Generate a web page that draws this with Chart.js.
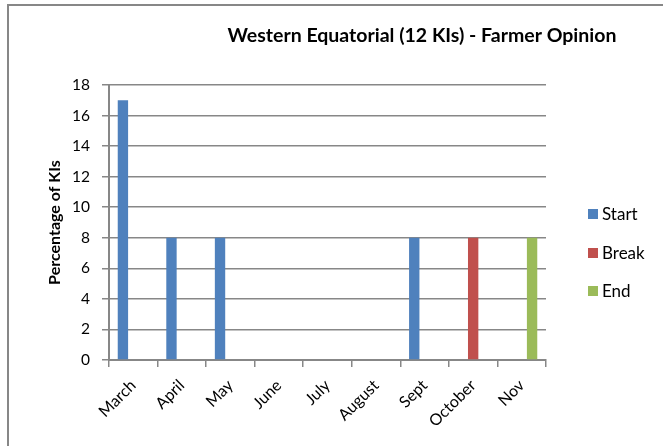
<!DOCTYPE html>
<html>
<head>
<meta charset="utf-8">
<script src="https://cdn.jsdelivr.net/npm/chart.js@4/dist/chart.umd.min.js"></script>
<style>
  html, body { margin: 0; padding: 0; background: #ffffff; }
  #wrap { position: relative; width: 663px; height: 446px; overflow: hidden; }
  #frame { position: absolute; left: 7px; top: 4px; width: 720px; height: 520px;
           border-left: 2px solid #878787; border-top: 2px solid #878787; }
  #c { position: absolute; left: 0; top: 0; }
</style>
</head>
<body>
<div id="wrap">
  <div id="frame"></div>
  <canvas id="c" width="663" height="446"></canvas>
</div>
<script>
// Months asked about, and the share of key informants (%) naming each one
const months = ['March', 'April', 'May', 'June', 'July', 'August', 'Sept', 'October', 'Nov'];
const startPct = [17, 8, 8, 0, 0, 0, 8, 0, 0];
const breakPct = [0, 0, 0, 0, 0, 0, 0, 8, 0];
const endPct   = [0, 0, 0, 0, 0, 0, 0, 0, 8];
const seriesNames = ['Start', 'Break', 'End'];
const seriesColors = ['#4F81BD', '#C0504D', '#9BBB59'];
const chartTitle = 'Western Equatorial (12 KIs) - Farmer Opinion';
const yAxisTitle = 'Percentage of KIs';
const yMax = 18;
const yStep = 2;

const FONT = 'Lato, "Open Sans", "DejaVu Sans", sans-serif';
const GRID = '#878787';

// Title and legend drawn in fixed spots beside the plot
const sideTexts = {
  id: 'sideTexts',
  afterDraw(chart) {
    const ctx = chart.ctx;
    ctx.save();
    ctx.fillStyle = '#000';
    ctx.font = 'bold 19.5px ' + FONT;
    ctx.textAlign = 'center';
    ctx.textBaseline = 'middle';
    ctx.fillText(chartTitle, 422, 36);

    ctx.font = '17px ' + FONT;
    ctx.textAlign = 'left';
    const rows = [214, 253, 291];
    chart.data.datasets.forEach((ds, i) => {
      const cy = rows[i];
      ctx.fillStyle = ds.backgroundColor;
      ctx.fillRect(588, cy - 5, 10, 10);
      ctx.fillStyle = '#000';
      ctx.fillText(ds.label, 602, cy + 1);
    });
    ctx.restore();
  }
};

new Chart(document.getElementById('c'), {
  type: 'bar',
  data: {
    labels: months,
    datasets: [
      { label: seriesNames[0], data: startPct, backgroundColor: seriesColors[0] },
      { label: seriesNames[1], data: breakPct, backgroundColor: seriesColors[1] },
      { label: seriesNames[2], data: endPct,   backgroundColor: seriesColors[2] }
    ]
  },
  options: {
    responsive: false,
    animation: false,
    devicePixelRatio: 1,
    layout: { padding: { left: 0, top: 85, right: 117, bottom: 0 } },
    datasets: { bar: { categoryPercentage: 0.64, barPercentage: 1.0, borderWidth: 0 } },
    plugins: {
      legend: { display: false },
      title: { display: false },
      tooltip: { enabled: false }
    },
    scales: {
      x: {
        afterFit(scale) { scale.height = 86; },
        grid: { offset: true, drawOnChartArea: false, drawTicks: true, tickLength: 7, color: GRID, lineWidth: 1.5 },
        border: { display: true, color: GRID, width: 2 },
        ticks: { color: '#000', font: { family: FONT, size: 16 }, minRotation: 45, maxRotation: 45, padding: 9 }
      },
      y: {
        min: 0,
        max: yMax,
        afterFit(scale) { scale.width = 109; },
        grid: { color: GRID, lineWidth: 1.5, drawTicks: true, tickLength: 7 },
        border: { display: true, color: GRID, width: 2 },
        ticks: { stepSize: yStep, color: '#000', font: { family: FONT, size: 15.5 }, padding: 12 },
        title: {
          display: true,
          text: yAxisTitle,
          color: '#000',
          font: { family: FONT, size: 16, weight: 'bold' },
          padding: { top: 45, bottom: 0 }
        }
      }
    }
  },
  plugins: [sideTexts]
});
</script>
</body>
</html>
